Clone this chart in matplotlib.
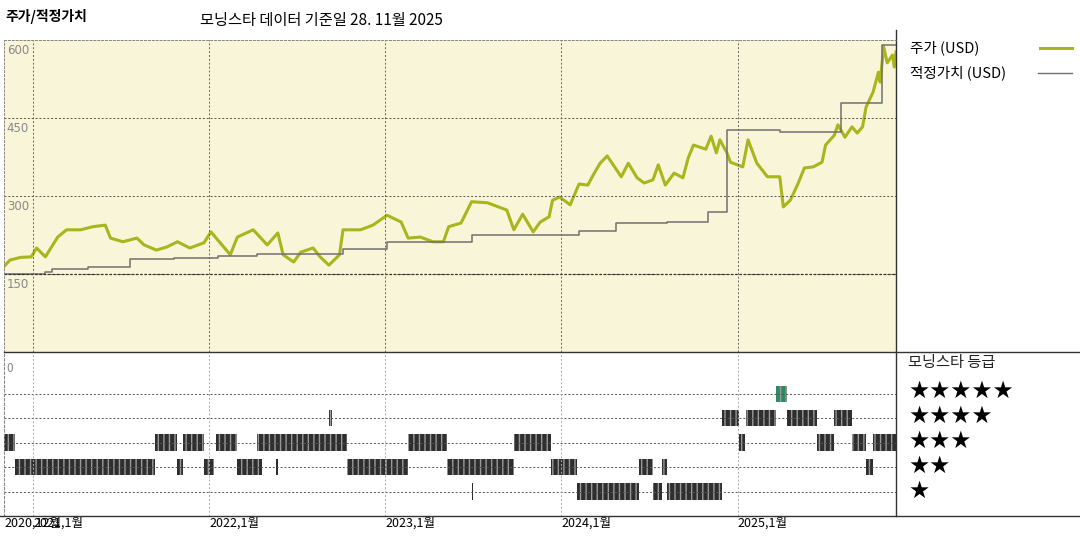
import matplotlib
matplotlib.use("Agg")
import matplotlib.pyplot as plt
from matplotlib.lines import Line2D

plt.rcParams['font.family'] = ['Noto Sans CJK KR', 'DejaVu Sans']

# price (USD), decimal year
price_t = [2020.83, 2020.87, 2020.93, 2020.99, 2021.02, 2021.07, 2021.14, 2021.19, 2021.27, 2021.34,
           2021.41, 2021.44, 2021.51, 2021.59, 2021.63, 2021.70, 2021.76, 2021.82, 2021.89, 2021.97,
           2022.01, 2022.05, 2022.12, 2022.16, 2022.25, 2022.33, 2022.39, 2022.42, 2022.48, 2022.52,
           2022.59, 2022.63, 2022.68, 2022.74, 2022.76, 2022.86, 2022.93, 2023.01, 2023.09, 2023.13,
           2023.20, 2023.27, 2023.33, 2023.36, 2023.43, 2023.49, 2023.58, 2023.69, 2023.73, 2023.78,
           2023.84, 2023.88, 2023.93, 2023.95, 2023.99, 2024.05, 2024.10, 2024.15, 2024.18, 2024.22,
           2024.26, 2024.34, 2024.38, 2024.43, 2024.47, 2024.52, 2024.55, 2024.59, 2024.64, 2024.69,
           2024.72, 2024.75, 2024.82, 2024.85, 2024.88, 2024.90, 2024.94, 2024.96, 2025.03, 2025.06,
           2025.11, 2025.17, 2025.24, 2025.26, 2025.30, 2025.34, 2025.38, 2025.43, 2025.48, 2025.50,
           2025.55, 2025.57, 2025.61, 2025.65, 2025.68, 2025.71, 2025.73, 2025.77, 2025.80, 2025.81,
           2025.83, 2025.85, 2025.88, 2025.89, 2025.90]
price_v = [163, 177, 182, 183, 200, 183, 221, 235, 235, 241,
           244, 219, 212, 219, 206, 196, 202, 212, 200, 210,
           231, 215, 187, 221, 235, 206, 229, 187, 173, 192,
           200, 183, 167, 187, 235, 235, 244, 263, 250, 219,
           221, 212, 212, 241, 248, 289, 287, 273, 235, 265,
           231, 250, 260, 292, 298, 283, 323, 321, 340, 363,
           377, 337, 363, 335, 325, 331, 360, 321, 344, 335,
           373, 398, 390, 415, 383, 408, 383, 365, 356, 408,
           363, 337, 337, 279, 292, 321, 354, 356, 365, 398,
           417, 437, 413, 433, 421, 433, 471, 500, 538, 519,
           587, 556, 571, 548, 577]

# fair value (USD), step changes
fair_t = [2020.84, 2021.07, 2021.11, 2021.31, 2021.55, 2021.80, 2022.05, 2022.27, 2022.76, 2023.01,
          2023.49, 2024.10, 2024.31, 2024.60, 2024.83, 2024.94, 2025.24, 2025.59, 2025.82, 2025.90]
fair_v = [150, 154, 160, 163, 179, 181, 185, 188, 198, 212,
          225, 233, 248, 250, 269, 427, 423, 479, 590, 590]

# star rating periods: (start, end)
rating_1 = [(2023.49, 2023.50), (2024.09, 2024.44), (2024.52, 2024.57), (2024.60, 2024.91)]
rating_2 = [(2020.90, 2021.69), (2021.82, 2021.85), (2021.97, 2022.03), (2022.16, 2022.30),
            (2022.38, 2022.39), (2022.78, 2023.13), (2023.35, 2023.73), (2023.94, 2024.09),
            (2024.44, 2024.52), (2024.57, 2024.60), (2025.73, 2025.77)]
rating_3 = [(2020.83, 2020.90), (2021.69, 2021.82), (2021.85, 2021.97), (2022.04, 2022.16),
            (2022.27, 2022.78), (2023.13, 2023.35), (2023.73, 2023.94), (2025.01, 2025.04),
            (2025.45, 2025.55), (2025.65, 2025.73), (2025.77, 2025.90)]
rating_4 = [(2022.68, 2022.70), (2024.91, 2025.01), (2025.05, 2025.22), (2025.28, 2025.45),
            (2025.55, 2025.65)]
rating_5 = [(2025.22, 2025.28)]

year_ticks = [2021, 2022, 2023, 2024, 2025]
year_labels = ["2021,1월", "2022,1월", "2023,1월", "2024,1월", "2025,1월"]

W, H = 1080, 540
fig = plt.figure(figsize=(10.8, 5.4), dpi=100)
x0, x1 = 2020.835, 2025.90

def box(l, t, r, b):
    return [l / W, 1 - b / H, (r - l) / W, (b - t) / H]

ax = fig.add_axes(box(4, 40, 896, 352))
ax.set_facecolor('#f8f5d8')
ax.plot(price_t, price_v, color='#a9b51d', lw=2.2)
ax.plot(fair_t, fair_v, color='#707070', lw=1.1, drawstyle='steps-post')
ax.set_xlim(x0, x1)
ax.set_ylim(0, 600)
for v in [150, 300, 450]:
    ax.axhline(v, color='#555555', lw=0.7, ls=(0, (2, 2)))
ax.axhline(150, color='#333333', lw=0.9, ls=(0, (2, 1.5)))
for t in year_ticks:
    ax.axvline(t, color='#666666', lw=0.7, ls=(0, (2, 2)))
ax.set_xticks([]); ax.set_yticks([])
for v in [150, 300, 450, 600]:
    ax.text(0.003, v - 8, str(v), transform=ax.get_yaxis_transform(), ha='left', va='top',
            color='#888888', fontsize=8.5, family=['DejaVu Sans'])
for s in ax.spines.values():
    s.set_color('#888888'); s.set_linestyle((0, (2, 2))); s.set_linewidth(0.7)
ax.spines['right'].set_visible(False)

ax2 = fig.add_axes(box(4, 352, 896, 516))
ax2.set_xlim(x0, x1)
ax2.set_ylim(0, 6.7)
for r in [1, 2, 3, 4, 5]:
    ax2.axhline(r, color='#555555', lw=0.7, ls=(0, (2, 2)))
for t in year_ticks:
    ax2.axvline(t, color='#aaaaaa', lw=0.7, ls=(0, (2, 2)))
for r, segs in zip([1, 2, 3, 4, 5], [rating_1, rating_2, rating_3, rating_4, rating_5]):
    col = '#2f8a63' if r == 5 else '#2e2e2e'
    ax2.broken_barh([(a, b - a) for a, b in segs], (r - 0.33, 0.66),
                    facecolor=col, edgecolor='#9a9a9a', hatch='|||', lw=0)
ax2.set_xticks([]); ax2.set_yticks([])
ax2.text(0.003, 6.3, "0", transform=ax2.get_yaxis_transform(), ha='left', va='top',
         color='#888888', fontsize=8.5)
for s in ax2.spines.values():
    s.set_visible(False)
ax2.spines['left'].set_visible(True)
ax2.spines['left'].set_color('#888888'); ax2.spines['left'].set_linestyle((0, (2, 2)))

# frame lines
def fline(xs, ys, **kw):
    fig.add_artist(Line2D([x / W for x in xs], [1 - y / H for y in ys], **kw))
fline([0, W], [516, 516], color='#333333', lw=1)
fline([896, 896], [30, 516], color='#333333', lw=1)
fline([4, W], [352, 352], color='#333333', lw=1)
fline([4, 896], [40, 40], color='#888888', lw=0.7, ls=(0, (2, 2)))

# text
fig.text(5 / W, 1 - 17 / H, "주가/적정가치", fontsize=10, fontweight='bold', va='center')
fig.text(200 / W, 1 - 20 / H, "모닝스타 데이터 기준일 28. 11월 2025", fontsize=11, va='center')
fig.text(910 / W, 1 - 48 / H, "주가 (USD)", fontsize=10.5, va='center')
fline([1040, 1072], [48, 48], color='#a9b51d', lw=2.2)
fig.text(910 / W, 1 - 73 / H, "적정가치 (USD)", fontsize=10.5, va='center')
fline([1038, 1072], [73, 73], color='#707070', lw=1)
fig.text(908 / W, 1 - 362 / H, "모닝스타 등급", fontsize=11, va='center', color='#222222')
for i, n in enumerate([5, 4, 3, 2, 1]):
    fig.text(908 / W, 1 - (391 + 25 * i) / H, "★" * n, fontsize=17, va='center',
             family=['DejaVu Sans'])

fig.text(4 / W, 1 - 523 / H, "2020,12월", fontsize=9, va='center')
for t, lab in zip(year_ticks, year_labels):
    xp = 33 + (t - 2021) * 176
    fig.text(xp / W, 1 - 523 / H, lab, fontsize=9, va='center')

fig.savefig("out.png", dpi=100)
